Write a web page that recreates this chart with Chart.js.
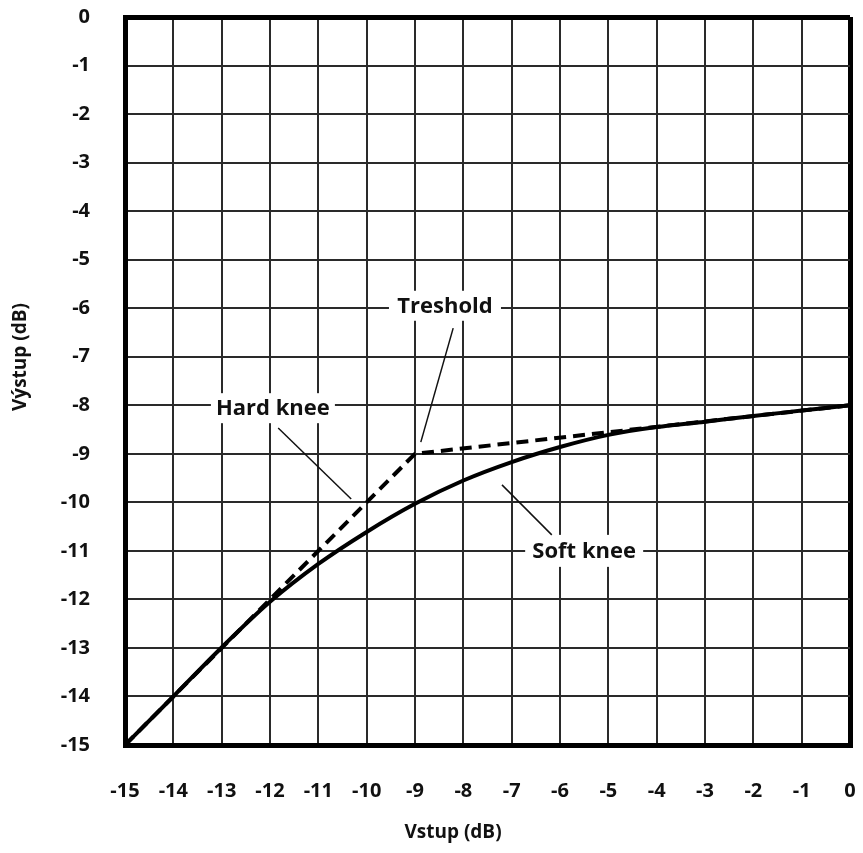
<!DOCTYPE html>
<html>
<head>
<meta charset="utf-8">
<script src="https://cdn.jsdelivr.net/npm/chart.js@4/dist/chart.umd.min.js"></script>
<style>
  html, body { margin: 0; padding: 0; background: #fff; }
  #wrap { width: 863px; height: 853px; }
</style>
</head>
<body>
<div id="wrap"><canvas id="c" width="863" height="853"></canvas></div>
<script>
// ---- data ----
const hardX = [-15, -9, 0];
const hardY = [-15, -9, -8];
const softX = [-15, -14, -13, -12, -11, -10, -9, -8, -7, -6, -5, -4, -3, -2, -1, 0];
const softY = [-15, -14, -12.99, -12.05, -11.27, -10.61, -10.03, -9.55, -9.17, -8.86, -8.61, -8.45, -8.34, -8.22, -8.11, -8.0];
const xTickValues = [-15, -14, -13, -12, -11, -10, -9, -8, -7, -6, -5, -4, -3, -2, -1, 0];
const yTickValues = [-15, -14, -13, -12, -11, -10, -9, -8, -7, -6, -5, -4, -3, -2, -1, 0];
const xTitle = 'Vstup (dB)';
const yTitle = 'Výstup (dB)';
const labelTexts = ['Treshold', 'Hard knee', 'Soft knee'];

const toPts = (xs, ys) => xs.map((x, i) => ({ x: x, y: ys[i] }));

const FONT = '"Open Sans", "Liberation Sans", sans-serif';

// annotation layout (data coordinates for anchors)
const annotations = [
  { text: labelTexts[0], cx: -8.38, cy: -5.95, bw: 112, bh: 30, lx1: -8.21, ly1: -6.41, lx2: -8.88, ly2: -8.76 },
  { text: labelTexts[1], cx: -11.94, cy: -8.06, bw: 124, bh: 30, lx1: -11.83, ly1: -8.47, lx2: -10.32, ly2: -9.93 },
  { text: labelTexts[2], cx: -5.50, cy: -11.0, bw: 118, bh: 32, lx1: -7.2, ly1: -9.64, lx2: -6.17, ly2: -10.67 }
];

const annotPlugin = {
  id: 'annot',
  afterDatasetsDraw(chart) {
    const ctx = chart.ctx;
    const xs = chart.scales.x, ys = chart.scales.y;
    ctx.save();
    annotations.forEach(a => {
      const cx = xs.getPixelForValue(a.cx), cy = ys.getPixelForValue(a.cy);
      ctx.fillStyle = '#ffffff';
      ctx.fillRect(cx - a.bw / 2, cy - a.bh / 2, a.bw, a.bh);
      ctx.strokeStyle = '#111';
      ctx.lineWidth = 1.5;
      ctx.beginPath();
      ctx.moveTo(xs.getPixelForValue(a.lx1), ys.getPixelForValue(a.ly1));
      ctx.lineTo(xs.getPixelForValue(a.lx2), ys.getPixelForValue(a.ly2));
      ctx.stroke();
      ctx.fillStyle = '#111';
      ctx.font = 'bold 22px ' + FONT;
      ctx.textAlign = 'center';
      ctx.textBaseline = 'middle';
      ctx.fillText(a.text, cx, cy + 1);
    });
    // axis titles
    ctx.font = 'bold 19px ' + FONT;
    ctx.fillStyle = '#111';
    ctx.textAlign = 'center';
    ctx.textBaseline = 'middle';
    ctx.fillText(xTitle, 453, 833);
    ctx.translate(21, 357);
    ctx.rotate(-Math.PI / 2);
    ctx.fillText(yTitle, 0, 0);
    ctx.restore();
  }
};

const edgeWidth = (ctx) => {
  const v = ctx.tick ? ctx.tick.value : null;
  return (v === 0 || v === -15) ? 5 : 2;
};
const edgeColor = (ctx) => {
  const v = ctx.tick ? ctx.tick.value : null;
  return (v === 0 || v === -15) ? '#000' : '#2a2a2a';
};

new Chart(document.getElementById('c'), {
  type: 'line',
  data: {
    datasets: [
      {
        label: 'Soft knee',
        data: toPts(softX, softY),
        borderColor: '#000',
        borderWidth: 4,
        pointRadius: 0,
        cubicInterpolationMode: 'monotone',
        fill: false
      },
      {
        label: 'Hard knee',
        data: toPts(hardX, hardY),
        borderColor: '#000',
        borderWidth: 4,
        borderDash: [12, 7],
        pointRadius: 0,
        tension: 0,
        fill: false
      }
    ]
  },
  options: {
    responsive: false,
    animation: false,
    devicePixelRatio: 1,
    layout: { padding: { left: 0, top: 17, right: 13, bottom: 0 } },
    plugins: { legend: { display: false }, tooltip: { enabled: false } },
    scales: {
      x: {
        type: 'linear',
        min: -15, max: 0,
        afterFit: (s) => { s.height = 108; s.paddingLeft = 0; s.paddingRight = 0; },
        afterBuildTicks: (s) => { s.ticks = xTickValues.map(v => ({ value: v })); },
        grid: { color: edgeColor, lineWidth: edgeWidth, drawTicks: false },
        border: { display: true, color: '#000', width: 5 },
        ticks: { padding: 34, color: '#111', font: { family: FONT, size: 20, weight: 'bold' }, maxRotation: 0, autoSkip: false }
      },
      y: {
        type: 'linear',
        min: -15, max: 0,
        afterFit: (s) => { s.width = 125; s.paddingTop = 0; s.paddingBottom = 0; },
        afterBuildTicks: (s) => { s.ticks = yTickValues.map(v => ({ value: v })); },
        grid: { color: edgeColor, lineWidth: edgeWidth, drawTicks: false },
        border: { display: true, color: '#000', width: 5 },
        ticks: { padding: 35, color: '#111', font: { family: FONT, size: 20, weight: 'bold' }, autoSkip: false }
      }
    }
  },
  plugins: [annotPlugin]
});
</script>
</body>
</html>
